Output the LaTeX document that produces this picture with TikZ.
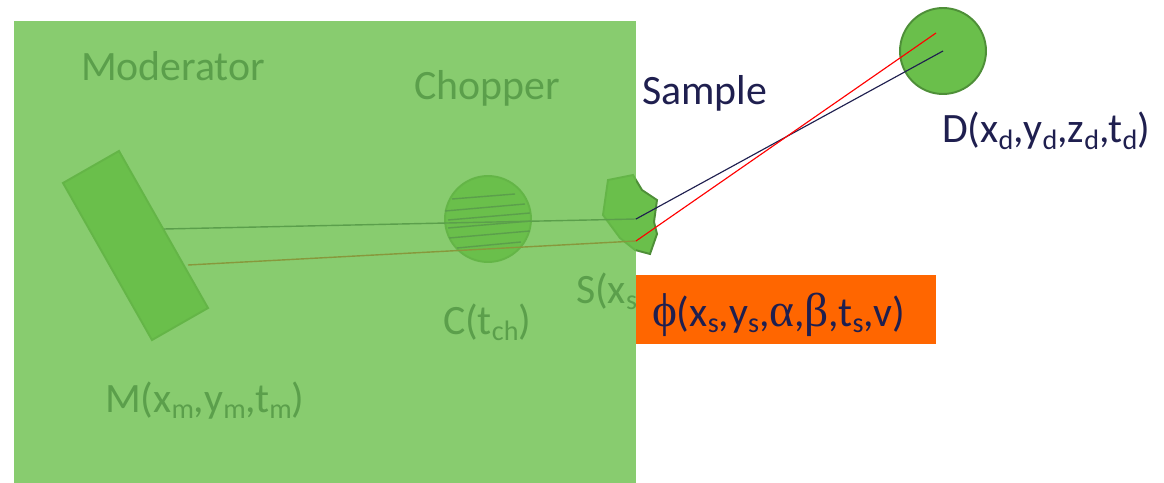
\documentclass[tikz,border=0pt]{standalone}
\usepackage{fontspec}
\setmainfont{Carlito}
\newfontfamily\grk{Liberation Serif}
\definecolor{objgreen}{HTML}{6ABF4B}
\definecolor{objedge}{HTML}{4E8F38}
\definecolor{navy}{HTML}{1F1F4F}
\definecolor{orng}{HTML}{FF6600}
\newcommand{\sbs}[1]{\raisebox{-0.35ex}{\fontsize{16}{18}\selectfont #1}}
\tikzset{
  lbl/.style={anchor=base west,inner sep=0pt,outer sep=0pt,text=navy,font=\fontsize{23.8}{28}\selectfont},
  obj/.style={fill=objgreen,draw=objedge,line width=1.1pt},
  beam/.style={navy,line width=0.65pt},
  redbeam/.style={red,line width=0.65pt},
  stripe/.style={navy,line width=0.8pt}
}
\begin{document}
\begin{tikzpicture}[x=0.02cm,y=-0.02cm]
\useasboundingbox (0,0) rectangle (1164,483);
% labels under the veil
\node[lbl] (moderator) at (81,81) {Moderator};
\node[lbl] (chopper) at (414,100) {Chopper};
\node[lbl] (clabel) at (443,334) {C(t\sbs{ch})};
\node[lbl] (slabel) at (576,303) {S(x\sbs{s}};
\node[lbl] (mlabel) at (105,412) {M(x\sbs{m},y\sbs{m},t\sbs{m})};
% moderator
\draw[obj] (63,183) -- (119,151) -- (208,308) -- (152,340) -- cycle;
% chopper
\node[obj,circle,minimum size=1.72cm,inner sep=0pt] (chop) at (488,219) {};
\foreach \a/\b/\c/\d in {452/199/515/194,445/211/525/204,448/220/530/213,448/228/531/221,449/238/530/231,457/248/521/242}
  \draw[stripe] (\a,\b) -- (\c,\d);
% sample
\draw[obj] (608,180) -- (633,175) -- (642,190) -- (657,200) -- (654,222) -- (657,234) -- (650,254) -- (635,250) -- (620,238) -- (603,215) -- cycle;
\coordinate (mupper) at (164,229);
\coordinate (mlower) at (188,265);
\coordinate (supper) at (636,219);
\coordinate (slower) at (636,241);
\coordinate (dupper) at (943,51);
\coordinate (dlower) at (936,33);
\draw[stripe] (mupper) -- (supper);
\draw[red,line width=0.8pt] (mlower) -- (slower);
% veil
\fill[objgreen,fill opacity=0.8] (14,21) rectangle (636,483);
% detector
\node[obj,circle,minimum size=1.72cm,inner sep=0pt] (det) at (943,51) {};
\draw[beam] (supper) -- (dupper);
\draw[redbeam] (slower) -- (dlower);
% orange box
\fill[orng] (636,275) rectangle (936,344);
\node[lbl] (phi) at (652,326) {{\grk\fontsize{27}{30}\selectfont ϕ}(x\sbs{s},y\sbs{s},{\grk\fontsize{27}{30}\selectfont α},{\grk\fontsize{27}{30}\selectfont β},t\sbs{s},v)};
\node[lbl] (sample) at (642,105) {Sample};
\node[lbl] (dlabel) at (942,143) {D(x\sbs{d},y\sbs{d},z\sbs{d},t\sbs{d})};
\end{tikzpicture}
\end{document}
